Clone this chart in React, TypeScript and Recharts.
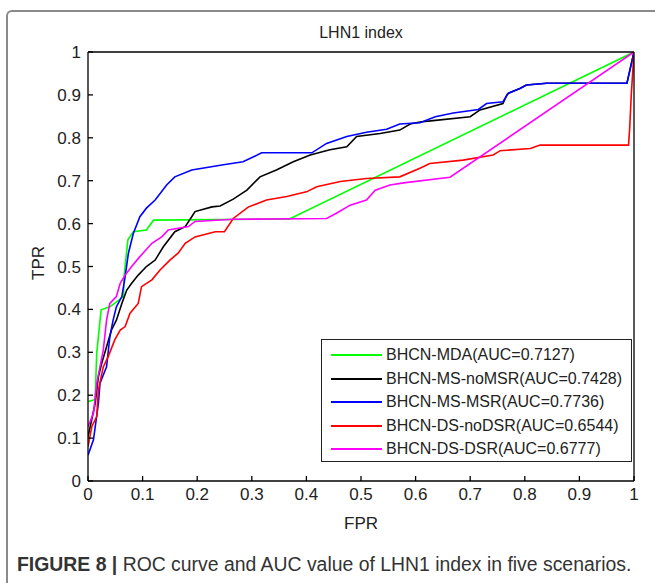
import React from 'react';
import { LineChart, Line, XAxis, YAxis, Legend } from 'recharts';

type Pt = [number, number];

const axisTicks = [0, 0.1, 0.2, 0.3, 0.4, 0.5, 0.6, 0.7, 0.8, 0.9, 1];
const tickLabels = ['0', '0.1', '0.2', '0.3', '0.4', '0.5', '0.6', '0.7', '0.8', '0.9', '1'];

// [FPR, TPR]
const mdaPts: Pt[] = [
  [0, 0.185], [0.013, 0.19], [0.016, 0.298], [0.024, 0.399], [0.04, 0.406], [0.065, 0.43],
  [0.066, 0.476], [0.073, 0.562], [0.083, 0.581], [0.107, 0.585], [0.12, 0.608], [0.369, 0.611], [1, 1],
];
const msNoMsrPts: Pt[] = [
  [0, 0.103], [0.013, 0.18], [0.019, 0.243], [0.025, 0.274], [0.034, 0.313], [0.043, 0.352],
  [0.052, 0.375], [0.062, 0.414], [0.071, 0.445], [0.08, 0.461], [0.092, 0.48], [0.107, 0.5],
  [0.123, 0.515], [0.138, 0.546], [0.159, 0.581], [0.178, 0.593], [0.19, 0.616], [0.196, 0.628],
  [0.227, 0.639], [0.242, 0.641], [0.266, 0.657], [0.291, 0.678], [0.315, 0.709], [0.345, 0.725],
  [0.376, 0.744], [0.407, 0.76], [0.443, 0.772], [0.474, 0.779], [0.492, 0.803], [0.535, 0.81],
  [0.571, 0.818], [0.59, 0.832], [0.608, 0.837], [0.632, 0.84], [0.7, 0.849], [0.718, 0.865],
  [0.76, 0.88], [0.767, 0.9], [0.77, 0.904], [0.791, 0.915], [0.803, 0.923], [0.84, 0.927],
  [0.987, 0.927], [1, 1],
];
const msMsrPts: Pt[] = [
  [0, 0.06], [0.01, 0.096], [0.019, 0.18], [0.022, 0.228], [0.034, 0.266], [0.04, 0.336],
  [0.046, 0.375], [0.052, 0.406], [0.062, 0.43], [0.068, 0.476], [0.074, 0.531], [0.083, 0.577],
  [0.095, 0.616], [0.107, 0.636], [0.123, 0.655], [0.144, 0.69], [0.159, 0.709], [0.19, 0.725],
  [0.248, 0.737], [0.284, 0.744], [0.318, 0.765], [0.41, 0.765], [0.437, 0.787], [0.474, 0.803],
  [0.51, 0.813], [0.547, 0.82], [0.571, 0.832], [0.608, 0.835], [0.636, 0.849], [0.669, 0.858],
  [0.715, 0.866], [0.73, 0.88], [0.76, 0.884], [0.77, 0.904], [0.791, 0.915], [0.803, 0.923],
  [0.84, 0.927], [0.987, 0.927], [1, 1],
];
const dsNoDsrPts: Pt[] = [
  [0, 0.08], [0.007, 0.127], [0.016, 0.15], [0.019, 0.212], [0.028, 0.266], [0.037, 0.29],
  [0.049, 0.329], [0.059, 0.352], [0.068, 0.36], [0.077, 0.391], [0.092, 0.414], [0.098, 0.453],
  [0.117, 0.469], [0.132, 0.492], [0.15, 0.515], [0.165, 0.531], [0.178, 0.554], [0.196, 0.569],
  [0.233, 0.581], [0.25, 0.581], [0.266, 0.612], [0.294, 0.639], [0.327, 0.655], [0.364, 0.663],
  [0.4, 0.674], [0.419, 0.686], [0.462, 0.698], [0.51, 0.705], [0.571, 0.709], [0.608, 0.729],
  [0.626, 0.74], [0.687, 0.748], [0.742, 0.76], [0.755, 0.77], [0.81, 0.775], [0.828, 0.783],
  [0.99, 0.783], [0.992, 0.82], [0.995, 0.9], [1, 1],
];
const dsDsrPts: Pt[] = [
  [0, 0.127], [0.01, 0.158], [0.016, 0.228], [0.028, 0.305], [0.034, 0.375], [0.04, 0.414],
  [0.052, 0.43], [0.059, 0.461], [0.068, 0.48], [0.08, 0.5], [0.095, 0.523], [0.117, 0.554],
  [0.135, 0.569], [0.147, 0.585], [0.184, 0.593], [0.196, 0.605], [0.266, 0.61], [0.437, 0.612],
  [0.455, 0.624], [0.48, 0.643], [0.51, 0.655], [0.526, 0.678], [0.553, 0.69], [0.578, 0.695],
  [0.663, 0.708], [1, 1],
];

const seriesNames = [
  'BHCN-MDA(AUC=0.7127)',
  'BHCN-MS-noMSR(AUC=0.7428)',
  'BHCN-MS-MSR(AUC=0.7736)',
  'BHCN-DS-noDSR(AUC=0.6544)',
  'BHCN-DS-DSR(AUC=0.6777)',
];
const seriesColors = ['#00ff00', '#000000', '#0000ff', '#ff0000', '#ff00ff'];
const seriesPts = [mdaPts, msNoMsrPts, msMsrPts, dsNoDsrPts, dsDsrPts];

const font = '"Liberation Sans", Arial, sans-serif';
const textColor = '#222';

const toRows = (pts: Pt[]) => pts.map(([x, y]) => ({ x, y }));

const LegendBox = () => (
  <div style={{ width: 311, height: 123, border: '1px solid #222', background: '#fff', boxSizing: 'border-box', position: 'relative', fontFamily: font }}>
    {seriesNames.map((name, i) => (
      <div key={name} style={{ position: 'absolute', left: 9, top: 4 + i * 23.5, height: 22, display: 'flex', alignItems: 'center' }}>
        <div style={{ width: 51, height: 2, background: seriesColors[i] }} />
        <span style={{ marginLeft: 4, fontSize: 16, color: textColor, whiteSpace: 'nowrap' }}>{name}</span>
      </div>
    ))}
  </div>
);

export default function App() {
  const tickStyle = { fontSize: 17, fill: textColor, fontFamily: font };
  return (
    <div style={{ position: 'absolute', left: 0, top: 0, width: 655, height: 583, background: '#fff', overflow: 'hidden' }}>
      <div style={{ position: 'absolute', left: 6, top: 10, width: 700, height: 600, borderTop: '2px solid #8a8a8a', borderLeft: '2px solid #8a8a8a', borderTopLeftRadius: 6 }} />
      <div style={{ position: 'absolute', left: 0, top: 0 }}>
        <LineChart width={655} height={583} margin={{ top: 51, right: 20, bottom: 72, left: 48 }}>
          <XAxis
            dataKey="x"
            type="number"
            domain={[0, 1]}
            ticks={axisTicks}
            tickFormatter={(v: number) => tickLabels[axisTicks.indexOf(v)] ?? String(v)}
            tickSize={-5}
            tickMargin={12}
            height={30}
            stroke="#000"
            strokeWidth={1.3}
            tick={tickStyle}
            allowDataOverflow
          />
          <YAxis
            type="number"
            domain={[0, 1]}
            ticks={axisTicks}
            tickFormatter={(v: number) => tickLabels[axisTicks.indexOf(v)] ?? String(v)}
            tickSize={-5}
            tickMargin={12}
            width={40}
            stroke="#000"
            strokeWidth={1.3}
            tick={tickStyle}
            allowDataOverflow
          />
          <XAxis xAxisId="top" orientation="top" type="number" domain={[0, 1]} ticks={axisTicks} tickFormatter={() => ''} tickSize={-5} height={1} stroke="#000" strokeWidth={1.3} />
          <YAxis yAxisId="right" orientation="right" type="number" domain={[0, 1]} ticks={axisTicks} tickFormatter={() => ''} tickSize={-5} width={1} stroke="#000" strokeWidth={1.3} />
          {seriesPts.map((pts, i) => (
            <Line
              key={seriesNames[i]}
              data={toRows(pts)}
              dataKey="y"
              name={seriesNames[i]}
              type="linear"
              stroke={seriesColors[i]}
              strokeWidth={1.6}
              dot={false}
              activeDot={false}
              isAnimationActive={false}
            />
          ))}
          <Legend
            layout="vertical"
            align="center"
            verticalAlign="middle"
            content={() => <LegendBox />}
            wrapperStyle={{ left: 321, top: 339, width: 311, height: 123 }}
          />
        </LineChart>
      </div>
      <div style={{ position: 'absolute', left: 261, top: 24, width: 200, textAlign: 'center', fontFamily: font, fontSize: 16, color: textColor }}>LHN1 index</div>
      <div style={{ position: 'absolute', left: 261, top: 514, width: 200, textAlign: 'center', fontFamily: font, fontSize: 17, color: textColor }}>FPR</div>
      <div style={{ position: 'absolute', left: 39, top: 263, width: 0, height: 0 }}>
        <div style={{ position: 'absolute', transform: 'translate(-50%, -50%) rotate(-90deg)', fontFamily: font, fontSize: 17, color: textColor, whiteSpace: 'nowrap' }}>TPR</div>
      </div>
      <div style={{ position: 'absolute', left: 17, top: 553, fontFamily: font, fontSize: 19.4, color: '#333', whiteSpace: 'nowrap' }}>
        <b>FIGURE 8 |</b> ROC curve and AUC value of LHN1 index in five scenarios.
      </div>
    </div>
  );
}
